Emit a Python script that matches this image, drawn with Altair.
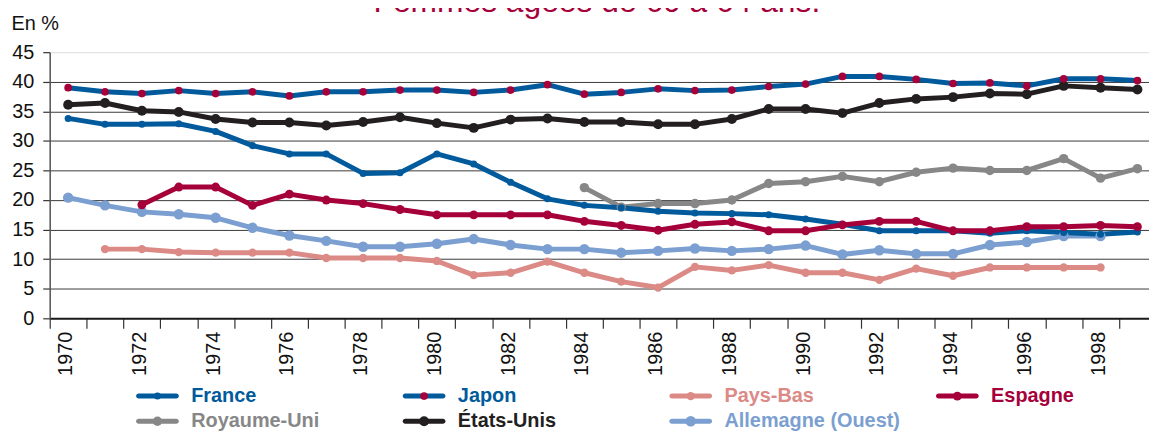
import altair as alt
import pandas as pd

# ---------------- data ----------------
titre = "Femmes âgées de 60 à 64 ans."
unite = "En %"

series = ["France", "Japon", "Pays-Bas", "Espagne",
          "Royaume-Uni", "États-Unis", "Allemagne (Ouest)"]

annees = list(range(1970, 2000))

france = [33.8, 32.8, 32.8, 32.9, 31.6, 29.2, 27.8, 27.8, 24.5, 24.6,
          27.8, 26.1, 23.0, 20.2, 19.1, 18.7, 18.1, 17.8, 17.7, 17.5,
          16.8, 15.9, 14.8, 14.8, 14.8, 14.4, 14.8, 14.5, 14.2, 14.6]
japon = [39.0, 38.3, 38.0, 38.5, 38.0, 38.3, 37.6, 38.3, 38.3, 38.6,
         38.6, 38.2, 38.6, 39.5, 37.9, 38.2, 38.8, 38.5, 38.6, 39.2,
         39.6, 40.9, 40.9, 40.4, 39.7, 39.8, 39.3, 40.5, 40.5, 40.2]
etats_unis = [36.1, 36.4, 35.1, 34.9, 33.7, 33.1, 33.1, 32.6, 33.2, 34.0,
              33.0, 32.2, 33.6, 33.8, 33.2, 33.2, 32.8, 32.8, 33.7, 35.4,
              35.4, 34.7, 36.4, 37.1, 37.4, 38.0, 37.9, 39.3, 39.0, 38.7]
espagne = [19.2, 22.2, 22.2, 19.1, 21.0, 20.0, 19.4, 18.4, 17.5, 17.5,
           17.5, 17.5, 16.4, 15.7, 14.9, 15.9, 16.3, 14.8, 14.8, 15.8,
           16.4, 16.4, 14.8, 14.8, 15.5, 15.5, 15.7, 15.5]          # 1972-1999
allemagne = [20.4, 19.1, 18.0, 17.6, 17.0, 15.3, 14.0, 13.1, 12.1, 12.1,
             12.6, 13.4, 12.4, 11.7, 11.7, 11.1, 11.4, 11.8, 11.4, 11.7,
             12.3, 10.8, 11.5, 10.9, 10.9, 12.4, 12.9, 13.9, 13.9]  # 1970-1998
pays_bas = [11.7, 11.7, 11.2, 11.1, 11.1, 11.1, 10.2, 10.2, 10.2, 9.7,
            7.3, 7.7, 9.6, 7.7, 6.2, 5.2, 8.7, 8.1, 9.0, 7.7,
            7.7, 6.5, 8.4, 7.2, 8.6, 8.6, 8.6, 8.6]                  # 1971-1998
royaume_uni = [22.1, 18.8, 19.4, 19.4, 20.0, 22.8, 23.1, 24.0, 23.1, 24.7,
               25.4, 25.0, 25.0, 27.0, 23.7, 25.3]                   # 1984-1999

debuts = {"France": 1970, "Japon": 1970, "États-Unis": 1970, "Espagne": 1972,
          "Allemagne (Ouest)": 1970, "Pays-Bas": 1971, "Royaume-Uni": 1984}
valeurs = {"France": france, "Japon": japon, "États-Unis": etats_unis,
           "Espagne": espagne, "Allemagne (Ouest)": allemagne,
           "Pays-Bas": pays_bas, "Royaume-Uni": royaume_uni}

# drawing order (last on top)
ordre_trace = ["Allemagne (Ouest)", "Pays-Bas", "Royaume-Uni", "États-Unis",
               "France", "Japon", "Espagne"]

# ---------------- styles ----------------
couleurs_ligne = ["#005a9c", "#005a9c", "#db8a86", "#a6003a",
                  "#878787", "#231f20", "#7b9fd0"]
couleurs_point = ["#005a9c", "#a6003a", "#db8a86", "#a6003a",
                  "#878787", "#231f20", "#7b9fd0"]
tailles_point = [50, 110, 50, 50, 50, 50, 50]

rows = []
for s in ordre_trace:
    for k, v in enumerate(valeurs[s]):
        rows.append({"serie": s, "annee": debuts[s] + k, "valeur": v})
df = pd.DataFrame(rows)

leg_df = pd.DataFrame({"serie": series,
                       "col": [i % 4 for i in range(len(series))],
                       "row": [i // 4 for i in range(len(series))]})

FONT = "Liberation Sans"
W, H = 1107, 268
step = 37.13

color_scale = alt.Scale(domain=series, range=couleurs_ligne)
fill_scale = alt.Scale(domain=series, range=couleurs_point)
size_scale = alt.Scale(domain=series, range=tailles_point)

x_axis = alt.Axis(
    values=annees, format="d",
    labelExpr="datum.value % 2 === 0 ? datum.label : ''",
    labelAngle=270, labelAlign="right", labelBaseline="middle",
    labelFontSize=20, labelFont=FONT, labelColor="#111111",
    labelPadding=3, labelOverlap=False, labelFlush=False,
    tickSize=10, tickOffset=-step / 2, labelOffset=step / 2 - 2.5,
    tickColor="#333333", tickWidth=1.2,
    domainColor="#1a1a1a", domainWidth=2,
    grid=False, title=None,
)
y_axis = alt.Axis(
    values=list(range(0, 50, 5)),
    labelFontSize=20, labelFont=FONT, labelColor="#111111",
    labelPadding=9, labelOverlap=False, labelFlush=False,
    tickSize=7, tickColor="#333333", tickWidth=1.2,
    grid=True,
    gridColor={"condition": {"test": "datum.value === 45 || datum.value === 0",
                             "value": "transparent"},
               "value": "#3a3a3a"},
    gridWidth=1,
    domainColor="#555555", domainWidth=1.5,
    title=unite, titleAngle=0, titleAlign="left", titleBaseline="alphabetic",
    titleX=-39, titleY=-23, titleFontSize=20, titleFontWeight="normal",
    titleFont=FONT, titleColor="#111111",
)
x_scale = alt.Scale(domain=[1969.5, 1969.5 + W / step], nice=False, zero=False)
y_scale = alt.Scale(domain=[0, 45], nice=False)

x_enc = alt.X("annee:Q", scale=x_scale, axis=x_axis)
y_enc = alt.Y("valeur:Q", scale=y_scale, axis=y_axis)

lines = alt.Chart(df).mark_line(strokeWidth=5, strokeCap="round", strokeJoin="round").encode(
    x=x_enc, y=y_enc,
    color=alt.Color("serie:N", scale=color_scale, legend=None),
)
points = alt.Chart(df).mark_circle(opacity=1).encode(
    x=x_enc, y=y_enc,
    fill=alt.Fill("serie:N", scale=fill_scale, legend=None),
    size=alt.Size("serie:N", scale=size_scale, legend=None),
)
main = alt.layer(lines, points)

lx = alt.X("col:Q", scale=alt.Scale(domain=[0, 3], range=[108.5, 914], nice=False), axis=None)
ly = alt.Y("row:Q", scale=alt.Scale(domain=[0, 1], range=[346.3, 371.7], nice=False), axis=None)

leg_line = alt.Chart(leg_df).mark_tick(orient="horizontal", size=43, thickness=5,
                                       cornerRadius=2.5, opacity=1).encode(
    x=lx, y=ly, color=alt.Color("serie:N", scale=color_scale, legend=None))
leg_dot = alt.Chart(leg_df).mark_circle(opacity=1).encode(
    x=lx, y=ly,
    fill=alt.Fill("serie:N", scale=fill_scale, legend=None),
    size=alt.Size("serie:N", scale=size_scale, legend=None))
leg_text = alt.Chart(leg_df).mark_text(align="left", baseline="middle", dx=34,
                                       fontSize=20, fontWeight="bold", font=FONT).encode(
    x=lx, y=ly, text="serie:N",
    color=alt.Color("serie:N", scale=color_scale, legend=None))
legend = alt.layer(leg_line, leg_dot, leg_text)

title_layer = alt.Chart(pd.DataFrame({"t": [titre]})).mark_text(
    fontSize=32, color="#a6003a", align="center", baseline="alphabetic", font=FONT
).encode(text="t:N", x=alt.value(551), y=alt.value(-40))

chart = alt.layer(main, legend, title_layer).resolve_scale(
    x="independent", y="independent"
).properties(
    width=W, height=H,
    autosize=alt.AutoSizeParams(type="none"),
    padding={"left": 42, "top": 43, "right": 0, "bottom": 114},
).configure_view(fill="#d0d9ea", stroke="transparent").configure(font=FONT)

chart.save("out.html", embed_options={"renderer": "svg", "actions": False})
